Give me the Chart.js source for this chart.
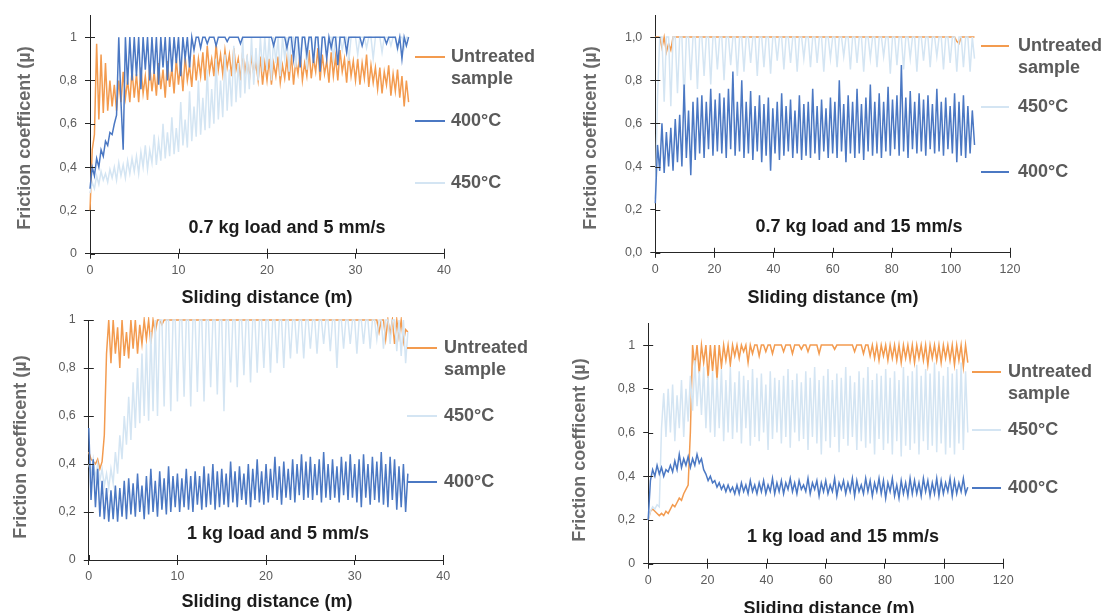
<!DOCTYPE html>
<html>
<head>
<meta charset="utf-8">
<script src="https://cdn.jsdelivr.net/npm/chart.js@4.4.1/dist/chart.umd.min.js"></script>
<style>
  html, body { margin: 0; padding: 0; background: #fff; }
  #wrap { position: relative; width: 1102px; height: 613px; overflow: hidden; background: #fff; }
  #wrap canvas { position: absolute; left: 0; top: 0; }
</style>
</head>
<body>
<div id="wrap">
  <canvas id="cA" width="1102" height="613"></canvas>
  <canvas id="cB" width="1102" height="613"></canvas>
  <canvas id="cC" width="1102" height="613"></canvas>
  <canvas id="cD" width="1102" height="613"></canvas>
</div>
<script>
// sampling step of the logged friction values (m)
const stepSlow = 0.25; // 5 mm/s runs, 0-36 m
const stepFast = 0.75; // 15 mm/s runs, 0-108 m

const seriesNames = ['Untreated sample', '400°C', '450°C'];
const xTicksSlow = [0, 10, 20, 30, 40];
const xTicksFast = [0, 20, 40, 60, 80, 100, 120];
const yLabelsPlain = ['0', '0,2', '0,4', '0,6', '0,8', '1'];
const yLabelsDec = ['0,0', '0,2', '0,4', '0,6', '0,8', '1,0'];
const panelTitles = ['0.7 kg load and 5 mm/s', '0.7 kg load and 15 mm/s', '1 kg load and 5 mm/s', '1 kg load and 15 mm/s'];

// A: 0.7 kg, 5 mm/s
const untreatedA = [
  0.2, 0.48, 0.55, 0.97, 0.62, 0.92, 0.65, 0.88, 0.66, 0.8,
  0.68, 0.78, 0.66, 0.8, 0.7, 0.84, 0.72, 0.8, 0.7, 0.85,
  0.72, 0.83, 0.7, 0.86, 0.74, 0.82, 0.71, 0.87, 0.75, 0.84,
  0.73, 0.88, 0.76, 0.85, 0.72, 0.89, 0.77, 0.86, 0.74, 0.9,
  0.78, 0.88, 0.75, 0.91, 0.8, 0.87, 0.77, 0.92, 0.8, 0.9,
  0.82, 0.93, 0.8, 0.96, 0.84, 0.9, 0.82, 0.97, 0.85, 0.92,
  0.83, 0.94, 0.86, 0.92, 0.82, 0.95, 0.85, 0.9, 0.8, 0.93,
  0.84, 0.9, 0.8, 0.92, 0.83, 0.88, 0.8, 0.91, 0.78, 0.88,
  0.8, 0.9, 0.78, 0.88, 0.82, 0.91, 0.79, 0.87, 0.81, 0.9,
  0.8, 0.92, 0.78, 0.89, 0.83, 0.93, 0.8, 0.88, 0.82, 0.94,
  0.81, 0.9, 0.84, 0.95, 0.8, 0.92, 0.83, 0.89, 0.79, 0.93,
  0.82, 0.91, 0.8, 0.94, 0.84, 0.9, 0.79, 0.92, 0.82, 0.89,
  0.8, 0.9, 0.78, 0.88, 0.81, 0.92, 0.77, 0.87, 0.79, 0.86,
  0.76, 0.86, 0.74, 0.84, 0.78, 0.87, 0.73, 0.83, 0.75, 0.85,
  0.72, 0.82, 0.68, 0.8, 0.7
];
const t400A = [
  0.3, 0.4, 0.36, 0.44, 0.4, 0.48, 0.45, 0.52, 0.5, 0.56,
  0.55, 0.6, 0.64, 1, 0.7, 0.48, 1, 0.78, 1, 0.8,
  1, 0.82, 1, 0.76, 1, 0.85, 1, 0.8, 1, 0.83,
  1, 0.78, 1, 0.86, 1, 0.8, 1, 0.84, 1, 0.88,
  1, 0.82, 1, 0.9, 1, 0.86, 1, 0.94, 1, 1,
  0.95, 1, 1, 0.97, 1, 1, 1, 0.96, 1, 1,
  1, 1, 0.98, 1, 1, 1, 1, 1, 0.97, 1,
  1, 1, 1, 1, 1, 1, 1, 1, 1, 1,
  1, 1, 1, 0.96, 1, 1, 1, 1, 1, 0.95,
  1, 1, 0.9, 1, 1, 0.86, 1, 1, 0.92, 1,
  1, 0.88, 1, 1, 0.84, 1, 1, 0.9, 1, 0.95,
  1, 1, 0.87, 1, 1, 1, 0.93, 1, 1, 1,
  1, 1, 1, 0.96, 1, 1, 1, 1, 1, 1,
  1, 1, 1, 1, 0.97, 1, 1, 1, 1, 0.95,
  1, 0.9, 1, 0.96, 1
];
const t450A = [
  0.28, 0.33, 0.3, 0.36, 0.32, 0.38, 0.34, 0.37, 0.33, 0.39,
  0.35, 0.4, 0.34, 0.42, 0.36, 0.41, 0.35, 0.43, 0.37, 0.44,
  0.38, 0.45, 0.37, 0.47, 0.4, 0.5, 0.39, 0.48, 0.42, 0.55,
  0.41, 0.52, 0.43, 0.6, 0.44, 0.56, 0.45, 0.63, 0.46, 0.58,
  0.47, 0.7, 0.5, 0.62, 0.49, 0.75, 0.52, 0.68, 0.54, 0.8,
  0.55, 0.72, 0.57, 0.85, 0.58, 0.76, 0.6, 0.9, 0.62, 0.8,
  0.63, 0.92, 0.66, 0.85, 0.68, 0.96, 0.7, 0.88, 0.72, 1,
  0.74, 0.92, 0.76, 1, 0.78, 0.95, 0.8, 1, 0.84, 1,
  0.85, 1, 0.8, 1, 0.88, 1, 0.82, 1, 0.9, 1,
  0.84, 1, 1, 0.86, 1, 0.92, 1, 1, 0.85, 1,
  1, 0.9, 1, 1, 0.88, 1, 1, 0.93, 1, 1,
  0.9, 1, 1, 1, 0.94, 1, 1, 0.89, 1, 1,
  1, 0.92, 1, 1, 1, 0.95, 1, 1, 0.9, 1,
  1, 1, 0.93, 1, 1, 1, 0.96, 1, 1, 0.94,
  1, 1, 0.95, 1, 1
];

// B: 0.7 kg, 15 mm/s
const untreatedB = [
  1, 1, 1, 0.95, 1, 0.93, 0.97, 0.94, 1, 1,
  1, 1, 1, 1, 1, 1, 1, 1, 1, 1,
  1, 1, 1, 1, 1, 1, 1, 1, 1, 1,
  1, 1, 1, 1, 1, 1, 1, 1, 1, 1,
  1, 1, 1, 1, 1, 1, 1, 1, 1, 1,
  1, 1, 1, 1, 1, 1, 1, 1, 1, 1,
  1, 1, 1, 1, 1, 1, 1, 1, 1, 1,
  1, 1, 1, 1, 1, 1, 1, 1, 1, 1,
  1, 1, 1, 1, 1, 1, 1, 1, 1, 1,
  1, 1, 1, 1, 1, 1, 1, 1, 1, 1,
  1, 1, 1, 1, 1, 1, 1, 1, 1, 1,
  1, 1, 1, 1, 1, 1, 1, 1, 1, 1,
  1, 1, 1, 1, 1, 1, 1, 1, 1, 1,
  1, 1, 1, 1, 1, 1, 0.98, 0.97, 1, 1,
  1, 1, 1, 1, 1
];
const t400B = [
  0.23, 0.5, 0.38, 0.6, 0.37, 0.56, 0.4, 0.58, 0.38, 0.62,
  0.42, 0.64, 0.4, 0.78, 0.44, 0.66, 0.36, 0.7, 0.43, 0.72,
  0.46, 0.73, 0.44, 0.7, 0.48, 0.76, 0.45, 0.71, 0.47, 0.74,
  0.46, 0.72, 0.44, 0.76, 0.48, 0.84, 0.45, 0.7, 0.47, 0.8,
  0.44, 0.7, 0.46, 0.75, 0.43, 0.68, 0.47, 0.73, 0.42, 0.69,
  0.45, 0.72, 0.38, 0.67, 0.46, 0.7, 0.43, 0.74, 0.45, 0.68,
  0.47, 0.71, 0.44, 0.66, 0.46, 0.73, 0.43, 0.69, 0.45, 0.7,
  0.44, 0.76, 0.46, 0.68, 0.43, 0.71, 0.47, 0.67, 0.44, 0.72,
  0.46, 0.7, 0.44, 0.8, 0.47, 0.69, 0.42, 0.73, 0.46, 0.7,
  0.44, 0.76, 0.46, 0.69, 0.43, 0.72, 0.47, 0.78, 0.45, 0.7,
  0.46, 0.74, 0.44, 0.7, 0.47, 0.77, 0.45, 0.71, 0.48, 0.73,
  0.45, 0.87, 0.47, 0.72, 0.44, 0.75, 0.48, 0.7, 0.46, 0.74,
  0.47, 0.71, 0.45, 0.73, 0.48, 0.69, 0.46, 0.76, 0.47, 0.7,
  0.45, 0.72, 0.48, 0.68, 0.46, 0.74, 0.42, 0.7, 0.45, 0.73,
  0.44, 0.68, 0.46, 0.66, 0.5
];
const t450B = [
  0.25, 0.72, 1, 1, 0.7, 1, 1, 0.68, 1, 1,
  0.74, 1, 1, 0.7, 1, 1, 0.8, 1, 1, 0.76,
  1, 1, 0.82, 1, 1, 0.78, 1, 1, 0.85, 1,
  1, 0.8, 1, 1, 0.87, 1, 1, 0.82, 1, 1,
  0.84, 1, 1, 0.88, 1, 1, 0.82, 1, 1, 0.86,
  1, 1, 0.83, 1, 1, 0.89, 1, 1, 0.85, 1,
  1, 0.88, 1, 1, 0.84, 1, 1, 0.9, 1, 1,
  0.86, 1, 1, 0.88, 1, 1, 0.84, 1, 1, 0.9,
  1, 1, 0.86, 1, 1, 0.91, 1, 1, 0.85, 1,
  1, 0.88, 1, 1, 0.84, 1, 1, 0.9, 1, 1,
  0.86, 1, 1, 0.91, 1, 1, 0.83, 1, 1, 0.87,
  1, 1, 0.85, 1, 1, 0.9, 1, 1, 0.84, 1,
  1, 0.89, 1, 1, 0.86, 1, 1, 0.91, 1, 1,
  0.85, 1, 1, 0.88, 1, 1, 0.84, 1, 1, 0.86,
  1, 1, 0.84, 1, 0.9
];

// C: 1 kg, 5 mm/s
const untreatedC = [
  0.45, 0.42, 0.41, 0.4, 0.42, 0.38, 0.41, 0.52, 0.86, 1,
  0.82, 1, 0.86, 0.97, 0.8, 1, 0.85, 0.95, 0.84, 1,
  0.88, 1, 0.86, 0.98, 0.9, 1, 0.92, 1, 0.9, 1,
  0.95, 1, 1, 0.98, 1, 1, 1, 1, 1, 1,
  1, 1, 1, 1, 1, 1, 1, 1, 1, 1,
  1, 1, 1, 1, 1, 1, 1, 1, 1, 1,
  1, 1, 1, 1, 1, 1, 1, 1, 1, 1,
  1, 1, 1, 1, 1, 1, 1, 1, 1, 1,
  1, 1, 1, 1, 1, 1, 1, 1, 1, 1,
  1, 1, 1, 1, 1, 1, 1, 1, 1, 1,
  1, 1, 1, 1, 1, 1, 1, 1, 1, 1,
  1, 1, 1, 1, 1, 1, 1, 1, 1, 1,
  1, 1, 1, 1, 1, 1, 1, 1, 1, 1,
  1, 0.95, 1, 1, 0.92, 1, 0.94, 1, 0.9, 1,
  0.93, 1, 0.91, 0.96, 0.95
];
const t400C = [
  0.55, 0.25, 0.42, 0.22, 0.38, 0.18, 0.33, 0.17, 0.3, 0.16,
  0.29, 0.17, 0.31, 0.16, 0.3, 0.18, 0.33, 0.17, 0.34, 0.19,
  0.32, 0.18, 0.36, 0.2, 0.31, 0.17, 0.35, 0.19, 0.38, 0.2,
  0.33, 0.18, 0.37, 0.21, 0.34, 0.19, 0.39, 0.2, 0.35, 0.22,
  0.36, 0.2, 0.34, 0.22, 0.38, 0.21, 0.35, 0.2, 0.37, 0.23,
  0.35, 0.21, 0.39, 0.22, 0.36, 0.23, 0.4, 0.21, 0.37, 0.22,
  0.38, 0.23, 0.36, 0.22, 0.41, 0.24, 0.37, 0.22, 0.39, 0.25,
  0.36, 0.23, 0.4, 0.22, 0.38, 0.25, 0.42, 0.24, 0.37, 0.23,
  0.4, 0.24, 0.38, 0.26, 0.43, 0.25, 0.39, 0.23, 0.41, 0.26,
  0.38, 0.25, 0.42, 0.24, 0.4, 0.27, 0.44, 0.25, 0.41, 0.26,
  0.43, 0.25, 0.4, 0.27, 0.42, 0.24, 0.45, 0.26, 0.4, 0.25,
  0.42, 0.26, 0.39, 0.24, 0.43, 0.27, 0.41, 0.25, 0.44, 0.26,
  0.4, 0.24, 0.42, 0.22, 0.44, 0.26, 0.4, 0.23, 0.43, 0.25,
  0.41, 0.24, 0.45, 0.23, 0.4, 0.22, 0.43, 0.25, 0.42, 0.21,
  0.39, 0.22, 0.4, 0.2, 0.36
];
const t450C = [
  0.4, 0.36, 0.42, 0.34, 0.4, 0.33, 0.38, 0.31, 0.36, 0.3,
  0.38, 0.32, 0.45, 0.36, 0.52, 0.42, 0.6, 0.48, 0.68, 0.5,
  0.74, 0.55, 0.8, 0.57, 0.86, 0.6, 0.9, 0.58, 0.95, 0.62,
  1, 0.6, 1, 1, 0.64, 1, 1, 0.62, 1, 1,
  0.66, 1, 1, 0.68, 1, 1, 0.64, 1, 1, 0.7,
  1, 1, 0.66, 1, 1, 0.72, 1, 1, 0.69, 1,
  1, 0.62, 1, 1, 0.74, 1, 1, 0.72, 1, 1,
  0.77, 1, 1, 0.74, 1, 1, 0.78, 1, 1, 0.8,
  1, 1, 0.78, 1, 1, 0.82, 1, 1, 0.8, 1,
  1, 0.84, 1, 1, 0.86, 1, 1, 0.84, 1, 1,
  0.88, 1, 1, 0.86, 1, 1, 0.9, 1, 1, 0.87,
  1, 1, 0.8, 1, 1, 0.88, 1, 1, 0.9, 1,
  1, 0.86, 1, 1, 0.9, 1, 1, 0.88, 1, 1,
  0.92, 1, 1, 0.88, 1, 1, 0.9, 1, 1, 0.87,
  1, 0.85, 1, 0.82, 0.95
];

// D: 1 kg, 15 mm/s
const untreatedD = [
  0.2, 0.24, 0.25, 0.24, 0.23, 0.22, 0.23, 0.22, 0.24, 0.23,
  0.25, 0.27, 0.26, 0.28, 0.3, 0.29, 0.32, 0.34, 0.36, 0.6,
  1, 0.9, 1, 0.87, 1, 0.92, 1, 0.85, 1, 0.88,
  1, 0.84, 1, 0.9, 1, 0.93, 1, 0.91, 1, 0.95,
  1, 0.94, 1, 0.97, 1, 0.92, 1, 0.96, 1, 1,
  0.95, 1, 1, 0.97, 1, 1, 0.96, 1, 1, 1,
  1, 0.97, 1, 1, 1, 0.96, 1, 1, 1, 0.98,
  1, 1, 0.97, 1, 1, 1, 1, 0.96, 1, 1,
  1, 1, 1, 1, 0.98, 1, 1, 1, 1, 1,
  1, 1, 1, 0.97, 1, 1, 1, 0.96, 1, 1,
  0.95, 1, 0.94, 1, 0.93, 1, 0.95, 1, 0.93, 1,
  0.94, 1, 0.93, 1, 0.92, 1, 0.94, 1, 0.93, 1,
  0.92, 1, 0.94, 1, 0.93, 1, 0.91, 1, 0.94, 1,
  0.93, 1, 0.92, 1, 0.94, 1, 0.93, 1, 0.91, 1,
  0.93, 1, 0.9, 1, 0.92
];
const t400D = [
  0.2, 0.38, 0.43, 0.4, 0.45, 0.41, 0.44, 0.4, 0.43, 0.42,
  0.45, 0.42, 0.47, 0.43, 0.5, 0.44, 0.48, 0.45, 0.49, 0.44,
  0.48, 0.45, 0.5, 0.46, 0.48, 0.43, 0.41, 0.38, 0.4, 0.37,
  0.38, 0.35, 0.37, 0.34, 0.36, 0.33, 0.36, 0.33, 0.35, 0.32,
  0.36, 0.32, 0.37, 0.33, 0.36, 0.32, 0.38, 0.33, 0.36, 0.32,
  0.37, 0.33, 0.38, 0.32, 0.36, 0.33, 0.39, 0.32, 0.37, 0.33,
  0.38, 0.32, 0.37, 0.34, 0.39, 0.33, 0.37, 0.32, 0.38, 0.34,
  0.36, 0.33, 0.39, 0.32, 0.37, 0.34, 0.38, 0.31, 0.37, 0.33,
  0.38, 0.32, 0.36, 0.33, 0.39, 0.31, 0.37, 0.34, 0.38, 0.32,
  0.37, 0.33, 0.39, 0.31, 0.38, 0.33, 0.36, 0.32, 0.39, 0.33,
  0.38, 0.31, 0.37, 0.33, 0.39, 0.32, 0.38, 0.3, 0.37, 0.33,
  0.39, 0.31, 0.36, 0.3, 0.38, 0.32, 0.37, 0.31, 0.39, 0.32,
  0.38, 0.32, 0.37, 0.31, 0.39, 0.33, 0.38, 0.31, 0.37, 0.32,
  0.39, 0.31, 0.38, 0.32, 0.37, 0.33, 0.39, 0.31, 0.38, 0.32,
  0.37, 0.33, 0.39, 0.32, 0.35
];
const t450D = [
  0.2, 0.24, 0.26, 0.25, 0.27, 0.26, 0.62, 0.78, 0.58, 0.8,
  0.6, 0.82, 0.56, 0.77, 0.62, 0.84, 0.58, 0.8, 0.65, 0.86,
  0.7, 0.93, 0.72, 0.88, 0.68, 0.9, 0.62, 0.86, 0.6, 0.88,
  0.58, 0.85, 0.62, 0.89, 0.56, 0.84, 0.6, 0.9, 0.57, 0.83,
  0.6, 0.88, 0.55, 0.86, 0.62, 0.84, 0.54, 0.89, 0.58, 0.85,
  0.56, 0.87, 0.6, 0.82, 0.52, 0.88, 0.57, 0.85, 0.6, 0.84,
  0.55, 0.86, 0.58, 0.89, 0.53, 0.84, 0.6, 0.87, 0.56, 0.83,
  0.57, 0.88, 0.52, 0.85, 0.58, 0.9, 0.55, 0.84, 0.5, 0.86,
  0.56, 0.89, 0.53, 0.84, 0.58, 0.87, 0.51, 0.85, 0.57, 0.9,
  0.54, 0.86, 0.58, 0.83, 0.52, 0.88, 0.56, 0.85, 0.53, 0.9,
  0.55, 0.84, 0.5, 0.87, 0.57, 0.86, 0.52, 0.89, 0.55, 0.85,
  0.5, 0.88, 0.56, 0.84, 0.49, 0.9, 0.54, 0.86, 0.52, 0.88,
  0.55, 0.91, 0.5, 0.86, 0.56, 0.89, 0.52, 0.87, 0.54, 0.92,
  0.51, 0.88, 0.55, 0.86, 0.5, 0.9, 0.53, 0.87, 0.5, 0.89,
  0.55, 0.92, 0.52, 0.88, 0.6
];

// look
const seriesColors = ['#f39b4f', '#4b78c3', '#d4e5f3'];
const axisColor = '#262626';
const tickColor = '#5c5c5c';
const fontFamily = "'Liberation Sans', Arial, sans-serif";
const W = 1102, H = 613, yAxisW = 40, xAxisH = 30;

// where each panel sits on the page (px)
const layouts = [
  { area: { left: 90, right: 444, top: 13.9, bottom: 253.7 },
    legendLine: [415, 445], legendText: 451, legendY: [57, 121, 183],
    title: [287, 228], xTitle: [267, 298], yTitle: [25, 138] },
  { area: { left: 655.3, right: 1010, top: 12.3, bottom: 252.8 },
    legendLine: [981, 1009], legendText: 1018, legendY: [46, 172, 107],
    title: [859, 227], xTitle: [833, 298], yTitle: [591, 138] },
  { area: { left: 88.8, right: 443.3, top: 320, bottom: 560 },
    legendLine: [407, 437], legendText: 444, legendY: [348, 482, 416],
    title: [278, 534], xTitle: [267, 602], yTitle: [21, 447] },
  { area: { left: 648.2, right: 1003.3, top: 323.2, bottom: 563.7 },
    legendLine: [972, 1001], legendText: 1008, legendY: [372, 488, 430],
    title: [843, 537], xTitle: [829, 609], yTitle: [580, 450] }
];

function toPoints(values, step) {
  return values.map((v, i) => ({ x: i * step, y: v }));
}

const panelDecor = {
  id: 'panelDecor',
  afterDraw(chart, args, opts) {
    const ctx = chart.ctx;
    const area = chart.chartArea;
    const xs = chart.scales.x, ys = chart.scales.y;
    ctx.save();

    // inner half of the crossing tick marks
    ctx.strokeStyle = axisColor;
    ctx.lineWidth = 1;
    ctx.beginPath();
    xs.ticks.forEach(t => {
      const px = Math.round(xs.getPixelForValue(t.value)) + 0.5;
      ctx.moveTo(px, area.bottom);
      ctx.lineTo(px, area.bottom - 5);
    });
    ys.ticks.forEach(t => {
      const py = Math.round(ys.getPixelForValue(t.value)) + 0.5;
      ctx.moveTo(area.left, py);
      ctx.lineTo(area.left + 5, py);
    });
    ctx.stroke();

    // legend next to the curves
    ctx.font = 'bold 18px ' + fontFamily;
    ctx.textAlign = 'left';
    ctx.textBaseline = 'middle';
    seriesNames.forEach((name, i) => {
      const y = opts.legendY[i];
      ctx.strokeStyle = seriesColors[i];
      ctx.lineWidth = 2;
      ctx.beginPath();
      ctx.moveTo(opts.legendLine[0], y);
      ctx.lineTo(opts.legendLine[1], y);
      ctx.stroke();
      ctx.fillStyle = '#5a5a5a';
      const words = i === 0 ? name.split(' ') : [name];
      words.forEach((w, k) => ctx.fillText(w, opts.legendText, y + k * 22));
    });

    // panel caption
    ctx.textAlign = 'center';
    ctx.fillStyle = '#1c1c1c';
    ctx.fillText(opts.caption, opts.title[0], opts.title[1]);

    // axis titles
    ctx.fillText('Sliding distance (m)', opts.xTitle[0], opts.xTitle[1]);
    ctx.fillStyle = '#6a6a6a';
    ctx.translate(opts.yTitle[0], opts.yTitle[1]);
    ctx.rotate(-Math.PI / 2);
    ctx.fillText('Friction coefficent (µ)', 0, 0);
    ctx.restore();
  }
};

function buildPanel(id, series, step, xTicks, yMax, yLabels, lay, caption) {
  const tickFont = { family: fontFamily, size: 12.5 };
  const order = [1, 2, 0]; // 400°C on top, untreated underneath
  return new Chart(document.getElementById(id), {
    type: 'line',
    data: {
      datasets: order.map((s, k) => ({
        label: seriesNames[s],
        data: toPoints(series[s], step),
        borderColor: seriesColors[s],
        borderWidth: 1.5,
        pointRadius: 0,
        tension: 0,
        fill: false,
        clip: 3,
        order: k
      }))
    },
    options: {
      responsive: false,
      animation: false,
      events: [],
      layout: {
        padding: {
          left: lay.area.left - yAxisW,
          right: W - lay.area.right,
          top: lay.area.top,
          bottom: H - lay.area.bottom - xAxisH
        }
      },
      plugins: {
        legend: { display: false },
        tooltip: { enabled: false },
        panelDecor: Object.assign({ caption: caption }, lay)
      },
      scales: {
        x: {
          type: 'linear',
          min: xTicks[0],
          max: xTicks[xTicks.length - 1],
          afterFit: s => { s.height = xAxisH; },
          ticks: { stepSize: xTicks[1] - xTicks[0], maxRotation: 0, autoSkip: false, padding: 4, color: tickColor, font: tickFont },
          grid: { drawOnChartArea: false, tickLength: 5, color: axisColor },
          border: { color: axisColor, width: 1 }
        },
        y: {
          type: 'linear',
          min: 0,
          max: yMax,
          afterFit: s => { s.width = yAxisW; },
          ticks: { stepSize: 0.2, includeBounds: false, padding: 8, color: tickColor, font: tickFont,
                   callback: (v, i) => yLabels[i] },
          grid: { drawOnChartArea: false, tickLength: 5, color: axisColor },
          border: { color: axisColor, width: 1 }
        }
      }
    },
    plugins: [panelDecor]
  });
}

buildPanel('cA', [untreatedA, t400A, t450A], stepSlow, xTicksSlow, 1.1, yLabelsPlain, layouts[0], panelTitles[0]);
buildPanel('cB', [untreatedB, t400B, t450B], stepFast, xTicksFast, 1.1, yLabelsDec, layouts[1], panelTitles[1]);
buildPanel('cC', [untreatedC, t400C, t450C], stepSlow, xTicksSlow, 1, yLabelsPlain, layouts[2], panelTitles[2]);
buildPanel('cD', [untreatedD, t400D, t450D], stepFast, xTicksFast, 1.1, yLabelsPlain, layouts[3], panelTitles[3]);
</script>
</body>
</html>
